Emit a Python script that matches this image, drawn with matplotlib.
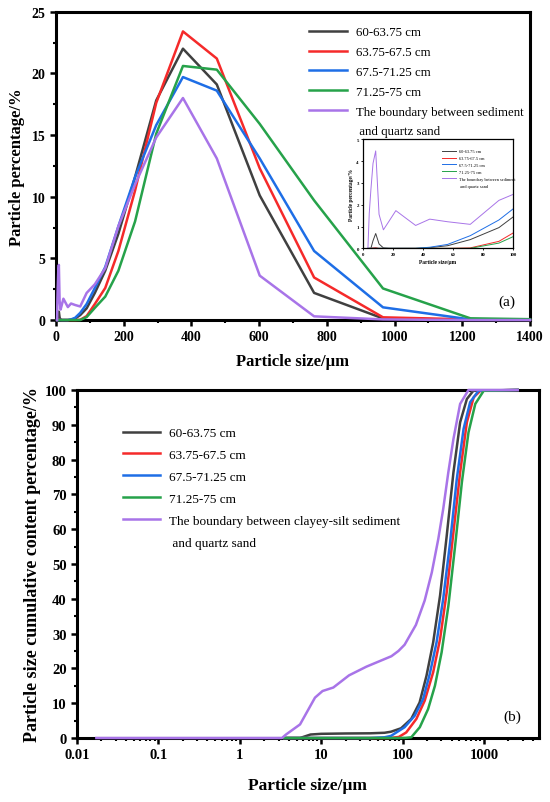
import numpy as np
import matplotlib
matplotlib.use('Agg')
import matplotlib.pyplot as plt
from matplotlib import ticker
from matplotlib.lines import Line2D

plt.rcParams['font.family'] = ['Liberation Serif', 'DejaVu Serif']
plt.rcParams['font.weight'] = 'bold'
plt.rcParams['axes.labelweight'] = 'bold'

# series names and colours
names = ['60-63.75 cm', '63.75-67.5 cm', '67.5-71.25 cm', '71.25-75 cm']
colors = ['#404040', '#f52a2a', '#1e6ee6', '#26a24a', '#a874e8']

# (a) particle size distribution, size bins in um
size_bins = [3.28, 4.16, 5.27, 6.68, 8.47, 10.7, 13.6, 17.3, 21.9, 27.7, 35.1, 44.5, 56.4,
             71.5, 90.6, 114.8, 145.5, 184.3, 233.6, 296.0, 375.0, 475.0, 601.8, 762.4,
             965.9, 1223.8, 1400.0]
pct_black = [0, 0, 0, 0.35, 0.68, 0.2, 0.02, 0, 0, 0, 0, 0.03, 0.12,
             0.4, 0.95, 2.2, 4.0, 7.0, 11.6, 17.8, 22.0, 19.1, 10.1, 2.2, 0.13, 0.02, 0]
pct_red = [0, 0, 0, 0.02, 0.03, 0, 0, 0, 0, 0, 0, 0, 0,
           0.02, 0.32, 1.3, 2.6, 5.6, 10.5, 17.6, 23.4, 21.2, 12.3, 3.45, 0.22, 0.05, 0.02]
pct_blue = [0, 0, 0, 0, 0, 0, 0, 0, 0, 0, 0, 0.05, 0.18,
            0.58, 1.3, 2.6, 4.3, 7.6, 11.6, 15.8, 19.7, 18.6, 13.1, 5.6, 1.03, 0.05, 0.02]
pct_green = [0, 0, 0, 0, 0, 0, 0, 0, 0, 0, 0, 0, 0,
             0, 0.24, 0.99, 1.9, 4.0, 8.0, 15.1, 20.6, 20.3, 15.9, 9.7, 2.56, 0.14, 0.07]
pct_purple = [0, 1.6, 2.7, 3.9, 4.47, 1.56, 0.85, 1.24, 1.73, 1.43, 1.05, 1.34, 1.22,
              1.1, 2.2, 2.9, 4.2, 7.6, 11.0, 14.8, 18.0, 13.1, 3.6, 0.3, 0.05, 0, 0]

# (b) cumulative content, read per curve
cum_black_x = [3.5, 5.5, 7.4, 10, 20, 40, 60, 72, 96, 128, 162, 197, 238, 289, 349, 422, 510, 617, 742, 2600]
cum_black_y = [0, 0, 1.0, 1.2, 1.3, 1.35, 1.5, 1.8, 2.8, 5.5, 10.2, 17.9, 27.5, 40.9, 58.1, 76.3, 90.7, 97.4, 99.8, 100]
cum_red_x = [3.5, 70, 90, 111, 148, 187, 238, 289, 349, 422, 510, 617, 748, 906, 2600]
cum_red_y = [0, 0, 0.3, 1.6, 5.5, 10.7, 18.9, 28.4, 41.9, 59.1, 76.3, 90.7, 97.9, 99.8, 100]
cum_blue_x = [3.5, 40, 60, 72, 106, 141, 179, 216, 262, 316, 384, 464, 562, 677, 861, 2600]
cum_blue_y = [0, 0, 0.2, 0.6, 3.1, 6.4, 11.2, 18.4, 27.5, 40, 56.2, 74.4, 88.8, 96.5, 99.8, 100]
cum_green_x = [3.5, 90, 110, 128, 163, 206, 250, 302, 366, 443, 536, 646, 783, 995, 2600]
cum_green_y = [0, 0, 0.05, 0.2, 3.1, 8.3, 15, 24.6, 38, 55.3, 73.5, 87.8, 96, 99.8, 100]
cum_purple_x = [0.0173, 3.3, 3.7, 5.5, 8.4, 10.4, 14.1, 22, 36, 73, 89, 106, 146, 187, 229,
                275, 316, 365, 422, 510, 646, 2600]
cum_purple_y = [0, 0, 1.0, 3.9, 11.6, 13.5, 14.5, 18.0, 20.5, 23.5, 25, 26.8, 32.5, 39.5, 47.6,
                57.2, 65.8, 76.3, 85.9, 96, 100, 100]

dist = [pct_black, pct_red, pct_blue, pct_green, pct_purple]
cum = [(cum_black_x, cum_black_y), (cum_red_x, cum_red_y), (cum_blue_x, cum_blue_y),
       (cum_green_x, cum_green_y), (cum_purple_x, cum_purple_y)]


def style_axes(ax, lw=2.2, size=10):
    for s in ax.spines.values():
        s.set_linewidth(lw)
    ax.tick_params(which='major', direction='out', length=4, width=1.8, labelsize=size,
                   top=False, right=False)
    ax.tick_params(which='minor', direction='out', length=2.5, width=1.5,
                   top=False, right=False)


fig = plt.figure(figsize=(5.5, 8.03), dpi=100)

# ---------- (a)
ax1 = fig.add_axes([0.1018, 0.6002, 0.8618, 0.384])
lines_a = []
for y, c in zip(dist, colors):
    l, = ax1.plot(size_bins, y, color=c, lw=1.8, zorder=3, clip_on=False)
    lines_a.append(l)
ax1.set_xlim(0, 1400)
ax1.set_ylim(0, 25)
ax1.xaxis.set_major_locator(ticker.MultipleLocator(200))
ax1.xaxis.set_minor_locator(ticker.MultipleLocator(100))
ax1.yaxis.set_major_locator(ticker.MultipleLocator(5))
ax1.yaxis.set_minor_locator(ticker.MultipleLocator(2.5))
style_axes(ax1)
ax1.set_xlabel('Particle size/μm', fontsize=12, labelpad=7)
ax1.set_ylabel('Particle percentage/%', fontsize=12, labelpad=5)
ax1.text(0.970, 0.06, '(a)', transform=ax1.transAxes, ha='right', va='center',
         fontsize=11, fontweight='normal')

ax1.legend(lines_a + [Line2D([], [], color='none')],
           names + ['The boundary between sediment', ' and quartz sand'],
           loc='upper left', bbox_to_anchor=(0.562, 0.966), bbox_transform=fig.transFigure,
           frameon=False, borderpad=0, borderaxespad=0, handlelength=2.9,
           handletextpad=0.7, labelspacing=0.6,
           prop={'weight': 'normal', 'size': 9.3})

# inset
axi = fig.add_axes([0.66, 0.6895, 0.2727, 0.1357])
lines_i = []
for y, c in zip(dist, colors):
    l, = axi.plot(size_bins, y, color=c, lw=0.7)
    lines_i.append(l)
axi.set_xlim(0, 100)
axi.set_ylim(0, 5)
axi.xaxis.set_major_locator(ticker.MultipleLocator(20))
axi.yaxis.set_major_locator(ticker.MultipleLocator(1))
for s in axi.spines.values():
    s.set_linewidth(0.9)
axi.tick_params(direction='out', length=1.5, width=0.6, labelsize=3.5, pad=1.5)
axi.set_xlabel('Particle size/μm', fontsize=4, labelpad=2)
axi.set_ylabel('Particle percentage/%', fontsize=4, labelpad=2)
axi.legend(lines_i + [Line2D([], [], color='none')],
           names + ['The boundary between sediment', ' and quartz sand'],
           loc='upper left', bbox_to_anchor=(0.53, 0.91), frameon=False, borderpad=0,
           borderaxespad=0, handlelength=3, handletextpad=0.8, labelspacing=0.62,
           prop={'weight': 'normal', 'size': 3.2})

# ---------- (b)
ax2 = fig.add_axes([0.140, 0.0797, 0.840, 0.4334])
lines_b = []
for (x, y), c in zip(cum, colors):
    l, = ax2.plot(x, y, color=c, lw=1.8, zorder=3, clip_on=False)
    lines_b.append(l)
ax2.set_xscale('log')
ax2.set_xlim(0.01, 4750)
ax2.set_ylim(0, 100)
ax2.xaxis.set_major_locator(ticker.LogLocator(base=10, numticks=10))
ax2.xaxis.set_minor_locator(ticker.LogLocator(base=10, subs=np.arange(2, 10), numticks=20))
ax2.xaxis.set_major_formatter(ticker.FuncFormatter(lambda v, p: f'{v:g}'))
ax2.xaxis.set_minor_formatter(ticker.NullFormatter())
ax2.yaxis.set_major_locator(ticker.MultipleLocator(10))
ax2.yaxis.set_minor_locator(ticker.MultipleLocator(5))
style_axes(ax2, size=10.5)
ax2.set_xlabel('Particle size/μm', fontsize=12.5, labelpad=11)
ax2.set_ylabel('Particle size cumulative content percentage/%', fontsize=13, labelpad=3)
ax2.text(0.961, 0.063, '(b)', transform=ax2.transAxes, ha='right', va='center',
         fontsize=11, fontweight='normal')
ax2.legend(lines_b + [Line2D([], [], color='none')],
           names + ['The boundary between clayey-silt sediment', ' and quartz sand'],
           loc='upper left', bbox_to_anchor=(0.2236, 0.467), bbox_transform=fig.transFigure,
           frameon=False, borderpad=0, borderaxespad=0, handlelength=2.8,
           handletextpad=0.7, labelspacing=0.73,
           prop={'weight': 'normal', 'size': 9.5})

fig.savefig('out.png', dpi=100)
